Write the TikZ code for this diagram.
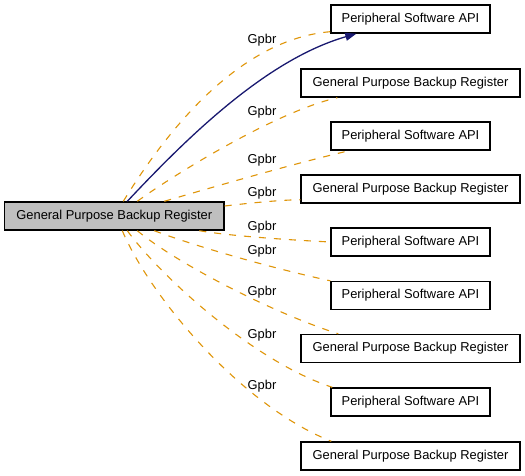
\documentclass[tikz,border=0pt]{standalone}
\usepackage{fontspec}
\setmainfont{Liberation Sans}
\usetikzlibrary{arrows.meta,calc}
\definecolor{gpbrgray}{RGB}{191,191,191}
\definecolor{gpbrorange}{RGB}{224,150,10}
\definecolor{gpbrnavy}{RGB}{25,25,112}

\begin{document}
\begin{tikzpicture}[
  x=1pt, y=-1pt,
  font=\fontsize{12.9}{15}\selectfont,
  box/.style={draw, line width=1.4pt, inner sep=0pt, minimum height=28pt},
  psabox/.style={box, minimum width=159pt},
  regbox/.style={box, minimum width=219pt},
  tmpl/.style={draw=gpbrorange, line width=1.1pt, dash pattern=on 7pt off 8pt},
  uses/.style={draw=gpbrnavy, line width=1.3pt, -{Triangle[length=11pt,width=8pt]}},
  lbl/.style={inner sep=0pt}
]
\fill[white] (0,0) rectangle (525,476);
\useasboundingbox (0,0) rectangle (525,476);

% the register itself
\node[box, fill=gpbrgray, minimum width=219.5pt] (gbr) at (114.25,216) {General Purpose Backup Register};

% right column
\node[psabox] (psa1)  at (410.5,19)    {Peripheral Software API};
\node[regbox] (gpbr2) at (410.5,83)    {General Purpose Backup Register};
\node[psabox] (psa3)  at (410.5,136)   {Peripheral Software API};
\node[regbox] (gpbr4) at (410.5,189)   {General Purpose Backup Register};
\node[psabox] (psa5)  at (410.5,242)   {Peripheral Software API};
\node[psabox] (psa6)  at (410.5,295.5) {Peripheral Software API};
\node[regbox] (gpbr7) at (410.5,348.5) {General Purpose Backup Register};
\node[psabox] (psa8)  at (410.5,402)   {Peripheral Software API};
\node[regbox] (gpbr9) at (410.5,456)   {General Purpose Backup Register};

% labels
\node[lbl] (lbl1) at (262,40)  {Gpbr};
\node[lbl] (lbl2) at (262,112) {Gpbr};
\node[lbl] (lbl3) at (262,160) {Gpbr};
\node[lbl] (lbl4) at (262,193) {Gpbr};
\node[lbl] (lbl5) at (262,227) {Gpbr};
\node[lbl] (lbl6) at (262,251) {Gpbr};
\node[lbl] (lbl7) at (262,292) {Gpbr};
\node[lbl] (lbl8) at (262,335) {Gpbr};
\node[lbl] (lbl9) at (262,386) {Gpbr};

% dashed template edges
\draw[tmpl] ($(gbr.north west)+(119.5,0)$) .. controls (155,150) and (230,40) .. ($(psa1.south west)+(0,-2)$);
\draw[tmpl] ($(gbr.north west)+(133.5,0)$) .. controls (172,176) and (275,112) .. ($(gpbr2.south west)+(37,0)$);
\draw[tmpl] ($(gbr.north west)+(160.5,0)$) .. controls (220,185) and (300,162) .. ($(psa3.south west)+(19,0)$);
\draw[tmpl] ($(gbr.east)+(0,-10)$) .. controls (250,203) and (280,200) .. ($(gpbr4.south west)+(0,-4)$);
\draw[tmpl] ($(gbr.south west)+(195.5,0)$) .. controls (230,236) and (290,240) .. (psa5.west);
\draw[tmpl] ($(gbr.south west)+(150.5,0)$) .. controls (200,248) and (280,270) .. (psa6.north west);
\draw[tmpl] ($(gbr.south west)+(133.5,0)$) .. controls (175,262) and (270,312) .. ($(gpbr7.north west)+(38,0)$);
\draw[tmpl] ($(gbr.south west)+(123.5,0)$) .. controls (162,278) and (255,362) .. ($(psa8.north west)+(2,0)$);
\draw[tmpl] ($(gbr.south west)+(118.5,0)$) .. controls (150,296) and (240,405) .. ($(gpbr9.north west)+(31,0)$);

% usage edge
\draw[uses] ($(gbr.north west)+(123.5,0)$) .. controls (185,140) and (265,60) .. ($(psa1.south west)+(26,0)$);

\end{tikzpicture}
\end{document}
